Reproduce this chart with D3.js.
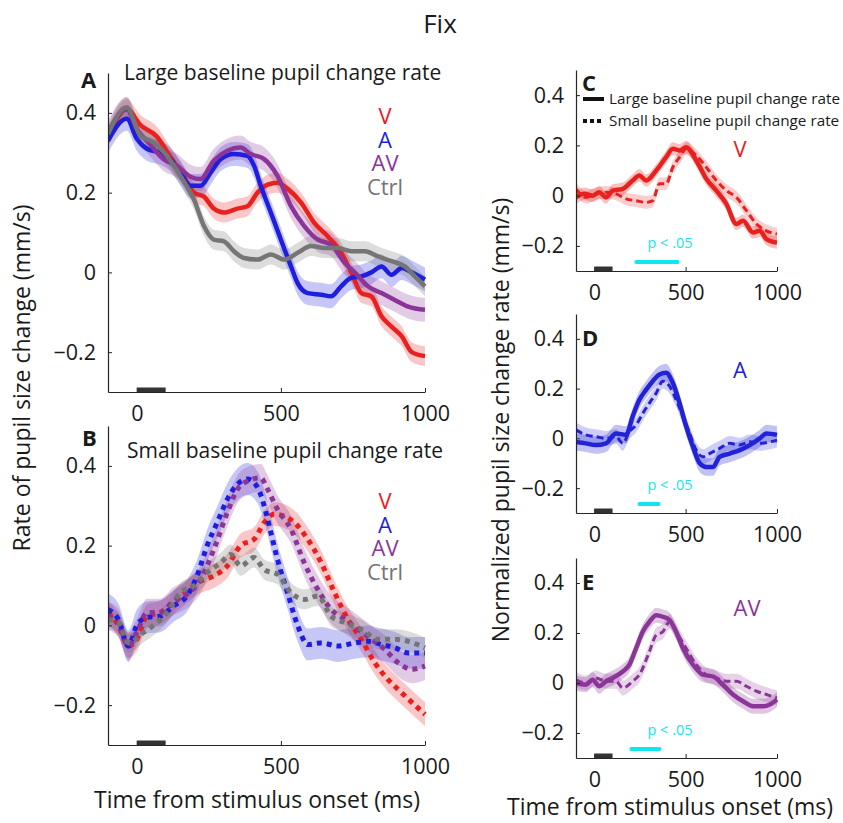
<!DOCTYPE html>
<html>
<head>
<meta charset="utf-8">
<script src="https://cdn.jsdelivr.net/npm/d3@7"></script>
<style>
  body { margin: 0; background: #fff; }
  svg text { font-family: "Open Sans", sans-serif; fill: #1a1a1a; }
</style>
</head>
<body>
<svg id="chart" width="843" height="823"></svg>
<script>
// ---- data (time in ms, value in mm/s) ----
const xTicks = [0, 500, 1000];
const yTicks = [-0.2, 0, 0.2, 0.4];
const conditions = ['V', 'A', 'AV', 'Ctrl'];
const colors = { V: '#e8201e', A: '#1e1ee0', AV: '#8b3598', Ctrl: '#757575' };

// panel A: large baseline change rate
const largeV = [[-100,0.34],[-35,0.41],[12,0.37],[70,0.34],[116,0.29],[163,0.24],[198,0.2],[233,0.19],[267,0.16],[302,0.15],[349,0.16],[384,0.166],[419,0.2],[454,0.22],[488,0.225],[523,0.21],[570,0.175],[616,0.124],[663,0.09],[709,0.05],[744,0],[779,-0.052],[814,-0.06],[849,-0.11],[884,-0.136],[919,-0.16],[954,-0.2],[1000,-0.21]];
const largeA = [[-100,0.33],[-35,0.385],[0,0.335],[35,0.31],[81,0.3],[116,0.284],[151,0.25],[186,0.217],[221,0.217],[256,0.25],[291,0.284],[337,0.297],[384,0.292],[407,0.267],[430,0.217],[465,0.15],[500,0.082],[535,0.015],[558,-0.027],[593,-0.052],[640,-0.056],[674,-0.06],[709,-0.035],[744,-0.014],[779,-0.01],[814,0],[849,0.015],[884,-0.006],[919,0.011],[954,0],[1000,-0.018]];
const largeAV = [[-100,0.35],[-35,0.41],[0,0.36],[47,0.32],[93,0.284],[140,0.267],[186,0.24],[221,0.234],[267,0.28],[314,0.305],[360,0.313],[395,0.297],[442,0.284],[488,0.242],[535,0.166],[581,0.116],[628,0.082],[674,0.07],[721,0.024],[756,0],[802,-0.035],[849,-0.052],[895,-0.069],[942,-0.086],[1000,-0.094]];
const largeCtrl = [[-100,0.347],[-35,0.414],[12,0.343],[58,0.326],[105,0.292],[151,0.242],[198,0.183],[233,0.116],[267,0.082],[302,0.078],[337,0.053],[372,0.036],[419,0.032],[465,0.045],[512,0.032],[558,0.049],[605,0.066],[651,0.061],[698,0.061],[744,0.053],[791,0.053],[837,0.04],[884,0.028],[930,0.015],[965,-0.01],[1000,-0.035]];

// panel B: small baseline change rate
const smallV = [[-100,0.032],[-64,0],[-29,-0.052],[0,-0.035],[35,0.023],[81,0.032],[128,0.057],[174,0.086],[221,0.111],[267,0.124],[314,0.149],[360,0.2],[407,0.216],[442,0.258],[477,0.279],[512,0.274],[547,0.258],[593,0.216],[640,0.157],[686,0.082],[733,0.015],[779,-0.035],[826,-0.094],[872,-0.136],[919,-0.169],[965,-0.2],[1000,-0.223]];
const smallA = [[-100,0.04],[-64,0.015],[-29,-0.052],[0,0],[35,0.02],[81,0.023],[128,0.049],[174,0.074],[209,0.124],[244,0.2],[279,0.258],[314,0.316],[349,0.354],[384,0.367],[419,0.346],[442,0.3],[465,0.233],[488,0.166],[523,0.082],[558,0],[593,-0.048],[640,-0.044],[698,-0.052],[756,-0.044],[802,-0.04],[849,-0.048],[895,-0.056],[942,-0.069],[1000,-0.069]];
const smallAV = [[-100,0.023],[-64,0.007],[-29,-0.052],[0,-0.018],[35,0.032],[81,0.032],[128,0.061],[174,0.078],[221,0.115],[267,0.19],[314,0.283],[349,0.341],[384,0.362],[430,0.37],[454,0.341],[488,0.291],[535,0.241],[581,0.157],[628,0.09],[674,0.04],[721,0.015],[768,-0.01],[814,-0.035],[860,-0.06],[907,-0.094],[954,-0.11],[1000,-0.102]];
const smallCtrl = [[-100,0.015],[-64,0.007],[-29,-0.044],[23,-0.018],[58,0],[105,0.032],[151,0.082],[198,0.099],[244,0.132],[291,0.157],[326,0.178],[360,0.149],[407,0.17],[442,0.14],[488,0.128],[535,0.082],[581,0.065],[628,0.074],[674,0.023],[721,0.007],[779,-0.01],[837,-0.035],[895,-0.035],[942,-0.04],[1000,-0.056]];

// band half-widths (s.e.m.)
const semLarge = { V: 0.025, A: 0.03, AV: 0.03, Ctrl: 0.025 };
const semSmall = { V: 0.03, A: 0.04, AV: 0.035, Ctrl: 0.025 };

// panels C-E: normalized, large (solid) vs small (dashed)
const normVLarge = [[-100,-0.007],[-55,0.007],[-9,0],[27,0.013],[64,-0.007],[101,0.02],[156,0.027],[210,0.06],[247,0.08],[284,0.06],[339,0.1],[393,0.153],[430,0.187],[467,0.18],[503,0.193],[558,0.14],[613,0.067],[668,0.02],[723,-0.033],[778,-0.113],[814,-0.1],[869,-0.147],[906,-0.14],[942,-0.173],[1000,-0.187]];
const normVSmall = [[-100,0.027],[-46,-0.007],[9,0.007],[64,0.013],[119,0.007],[174,-0.013],[229,-0.02],[284,-0.027],[320,-0.02],[357,0.047],[393,0.047],[430,0.113],[467,0.153],[503,0.187],[558,0.16],[613,0.113],[668,0.06],[723,0.02],[778,-0.007],[833,-0.06],[888,-0.113],[942,-0.14],[1000,-0.153]];
const normALarge = [[-100,-0.014],[-46,-0.02],[9,-0.027],[64,-0.02],[119,0.02],[174,0.014],[210,0.088],[247,0.155],[284,0.196],[320,0.23],[357,0.257],[393,0.264],[430,0.223],[467,0.142],[503,0.047],[540,-0.034],[577,-0.1],[613,-0.115],[650,-0.115],[686,-0.074],[741,-0.061],[796,-0.047],[851,-0.027],[906,0],[942,0.02],[1000,0.014]];
const normASmall = [[-100,0.034],[-46,0.014],[9,0.007],[64,0],[119,0.007],[156,-0.02],[192,0.027],[229,0.054],[265,0.1],[302,0.142],[339,0.182],[375,0.23],[412,0.21],[448,0.155],[485,0.088],[522,0.02],[558,-0.047],[595,-0.074],[631,-0.061],[686,-0.04],[741,-0.02],[796,-0.027],[851,-0.014],[906,-0.02],[961,-0.014],[1000,-0.007]];
const normAVLarge = [[-100,0],[-46,-0.007],[-9,0.013],[27,-0.013],[64,0.007],[101,0.02],[156,0.046],[192,0.073],[229,0.139],[265,0.205],[302,0.245],[339,0.271],[375,0.265],[412,0.252],[448,0.205],[485,0.139],[540,0.073],[595,0.033],[650,0.026],[704,-0.007],[759,-0.046],[814,-0.073],[869,-0.093],[924,-0.093],[961,-0.086],[1000,-0.066]];
const normAVSmall = [[-100,0.013],[-46,0],[9,0.02],[64,0.007],[119,0.007],[156,-0.02],[210,0.007],[247,0.033],[302,0.126],[339,0.192],[375,0.205],[412,0.245],[448,0.205],[503,0.139],[558,0.073],[613,0.033],[668,0.02],[723,0.007],[778,0.007],[833,-0.013],[888,-0.033],[942,-0.046],[1000,-0.06]];
const semNorm = { V: [0.025, 0.025], A: [0.035, 0.03], AV: [0.03, 0.03] };

// significance windows (ms)
const sigV = [230, 456];
const sigA = [247, 352];
const sigAV = [203, 357];
const stimulus = [0, 100];

const svg = d3.select('#chart');
const INK = '#262626';
const CYAN = '#10e6ee';
const TICK_FS = 21.5;
const LABEL_FS = 23;

function makePanel(box) {
    const x = d3.scaleLinear().domain([-100, 1000]).range([box.x0, box.x1]);
    const y = d3.scaleLinear().domain([-0.3, 0.5]).range([box.yb, box.yt]);
    const g = svg.append('g');
    const clipId = 'clip' + Math.round(box.yb);
    svg.append('clipPath').attr('id', clipId)
        .append('rect').attr('x', box.x0).attr('y', box.yt - 10)
        .attr('width', box.x1 - box.x0 + 3).attr('height', box.yb - box.yt + 10);
    const plot = g.append('g').attr('clip-path', `url(#${clipId})`);
    return { x, y, g, plot, box };
}

function drawAxes(p) {
    const fmt = d => d === 0 ? '0' : d3.format('.1f')(d).replace('-', '\u2212');
    const ya = p.g.append('g')
        .attr('transform', `translate(${p.box.x0},0)`)
        .call(d3.axisLeft(p.y).tickValues(yTicks).tickSize(-4).tickSizeOuter(0).tickPadding(12).tickFormat(fmt));
    const xa = p.g.append('g')
        .attr('transform', `translate(0,${p.box.yb})`)
        .call(d3.axisBottom(p.x).tickValues(xTicks).tickSize(-4).tickSizeOuter(0).tickPadding(14).tickFormat(d3.format('d')));
    [ya, xa].forEach(a => {
        a.select('.domain').attr('stroke', INK).attr('stroke-width', 1.2);
        a.selectAll('.tick line').attr('stroke', INK);
        a.selectAll('.tick text').attr('font-size', TICK_FS).attr('fill', INK)
            .style('font-family', '"Open Sans", sans-serif');
    });
    // stimulus bar
    p.g.append('rect')
        .attr('x', p.x(stimulus[0])).attr('y', p.box.yb - 4.5)
        .attr('width', p.x(stimulus[1]) - p.x(stimulus[0])).attr('height', 4.5)
        .attr('fill', '#333');
}

function drawSeries(p, data, sem, color, opts) {
    const area = d3.area().curve(d3.curveMonotoneX)
        .x(d => p.x(d[0])).y0(d => p.y(d[1] - sem)).y1(d => p.y(d[1] + sem));
    p.plot.append('path').datum(data).attr('d', area)
        .attr('fill', color).attr('opacity', opts.bandOpacity || 0.25);
}
function drawLine(p, data, color, opts) {
    const line = d3.line().curve(d3.curveMonotoneX).x(d => p.x(d[0])).y(d => p.y(d[1]));
    p.plot.append('path').datum(data).attr('d', line)
        .attr('fill', 'none').attr('stroke', color)
        .attr('stroke-width', opts.width)
        .attr('stroke-dasharray', opts.dash || null)
        .attr('stroke-linejoin', 'round');
}

// title
svg.append('text').attr('x', 440).attr('y', 33).attr('text-anchor', 'middle')
    .attr('font-size', 26).text('Fix');

// ---- panel A ----
const pA = makePanel({ x0: 108, x1: 425, yt: 73, yb: 392 });
const large = { V: largeV, A: largeA, AV: largeAV, Ctrl: largeCtrl };
conditions.forEach(c => drawSeries(pA, large[c], semLarge[c], colors[c], {}));
conditions.forEach(c => drawLine(pA, large[c], colors[c], { width: 4.5 }));
drawAxes(pA);
pA.g.append('text').attr('x', 81).attr('y', 88).attr('font-size', 22).attr('font-weight', 'bold').text('A');
pA.g.append('text').attr('x', 124).attr('y', 80).attr('font-size', 21).text('Large baseline pupil change rate');

// ---- panel B ----
const pB = makePanel({ x0: 108, x1: 425, yt: 426, yb: 745 });
const small = { V: smallV, A: smallA, AV: smallAV, Ctrl: smallCtrl };
conditions.forEach(c => drawSeries(pB, small[c], semSmall[c], colors[c], {}));
conditions.forEach(c => drawLine(pB, small[c], colors[c], { width: 5, dash: '5,5' }));
drawAxes(pB);
pB.g.append('text').attr('x', 82).attr('y', 446).attr('font-size', 22).attr('font-weight', 'bold').text('B');
pB.g.append('text').attr('x', 127).attr('y', 458).attr('font-size', 21).text('Small baseline pupil change rate');

// legends A & B
[[pA, 124], [pB, 509]].forEach(([p, y0]) => {
    conditions.forEach((c, i) => {
        p.g.append('text').attr('x', 385).attr('y', y0 + i * 23.5)
            .attr('text-anchor', 'middle').attr('font-size', 22)
            .style('fill', colors[c]).text(c);
    });
});

// ---- panels C, D, E ----
const right = [
    { key: 'V', box: { x0: 576, x1: 777, yt: 70, yb: 271 }, letter: 'C', lbl: [740, 157], large: normVLarge, small: normVSmall, sig: sigV, color: '#e8201e' },
    { key: 'A', box: { x0: 576, x1: 777, yt: 314, yb: 513 }, letter: 'D', lbl: [740, 378], large: normALarge, small: normASmall, sig: sigA, color: '#2222d6' },
    { key: 'AV', box: { x0: 576, x1: 777, yt: 558, yb: 758 }, letter: 'E', lbl: [747, 616], large: normAVLarge, small: normAVSmall, sig: sigAV, color: '#8b3598' }
];
right.forEach(r => {
    const p = makePanel(r.box);
    drawSeries(p, r.large, semNorm[r.key][0], r.color, { bandOpacity: 0.28 });
    drawSeries(p, r.small, semNorm[r.key][1], r.color, { bandOpacity: 0.22 });
    drawLine(p, r.large, r.color, { width: 4.5 });
    drawLine(p, r.small, r.color, { width: 3, dash: '7,4' });
    drawAxes(p);
    p.g.append('text').attr('x', 582).attr('y', r.box.yt + (r.letter === 'C' ? 21 : 32))
        .attr('font-size', 22).attr('font-weight', 'bold').text(r.letter);
    p.g.append('text').attr('x', r.lbl[0]).attr('y', r.lbl[1]).attr('text-anchor', 'middle')
        .attr('font-size', 22).style('fill', r.color).text(r.key);
    // significance window
    const sy = r.box.yb - 9;
    p.g.append('line').attr('x1', p.x(r.sig[0])).attr('x2', p.x(r.sig[1]))
        .attr('y1', sy).attr('y2', sy).attr('stroke', CYAN).attr('stroke-width', 4)
        .attr('stroke-linecap', 'round');
    p.g.append('text').attr('x', 670).attr('y', sy - 14)
        .attr('text-anchor', 'middle').attr('font-size', 14.5).style('fill', CYAN).text('p < .05');
});

// legend in C
const leg = svg.append('g');
[['Large baseline pupil change rate', null, 99], ['Small baseline pupil change rate', '4,3', 121]].forEach(([t, dash, y]) => {
    leg.append('line').attr('x1', 583).attr('x2', 604).attr('y1', y).attr('y2', y)
        .attr('stroke', '#111').attr('stroke-width', 4).attr('stroke-dasharray', dash);
    leg.append('text').attr('x', 609).attr('y', y + 5).attr('font-size', 15.3).text(t);
});

// axis titles
svg.append('text').attr('transform', 'translate(30,378) rotate(-90)').attr('text-anchor', 'middle')
    .attr('font-size', LABEL_FS).text('Rate of pupil size change (mm/s)');
svg.append('text').attr('x', 257).attr('y', 808).attr('text-anchor', 'middle')
    .attr('font-size', LABEL_FS).text('Time from stimulus onset (ms)');
svg.append('text').attr('transform', 'translate(509,420) rotate(-90)').attr('text-anchor', 'middle')
    .attr('font-size', LABEL_FS).text('Normalized pupil size change rate (mm/s)');
svg.append('text').attr('x', 670).attr('y', 815).attr('text-anchor', 'middle')
    .attr('font-size', LABEL_FS).text('Time from stimulus onset (ms)');
</script>
</body>
</html>
